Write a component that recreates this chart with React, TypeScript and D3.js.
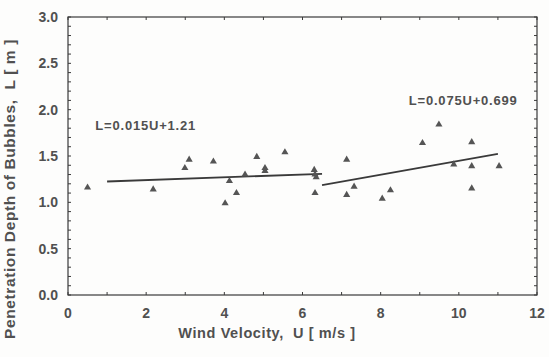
import * as d3 from "d3";

// measured points (U [m/s], L [m])
const windU = [
  0.5, 2.18, 2.99, 3.1, 3.72, 4.02, 4.13, 4.31, 4.53, 4.83, 5.04, 5.04, 5.55,
  6.3, 6.32, 6.35, 6.32, 7.13, 7.13, 7.32, 8.04, 8.25, 9.07, 9.49, 9.87, 10.33,
  10.33, 10.33, 11.03,
];
const depthL = [
  1.16, 1.14, 1.37, 1.46, 1.44, 0.99, 1.23, 1.1, 1.3, 1.49, 1.34, 1.37, 1.54,
  1.35, 1.3, 1.27, 1.1, 1.46, 1.08, 1.17, 1.04, 1.13, 1.64, 1.84, 1.41, 1.65,
  1.39, 1.15, 1.39,
];

// regression lines: slope, intercept, U range, label
const fitSlope = [0.015, 0.075];
const fitIntercept = [1.21, 0.699];
const fitFrom = [1.0, 6.5];
const fitTo = [6.5, 11.0];
const fitLabels = ["L=0.015U+1.21", "L=0.075U+0.699"];
const labelU = [0.7, 8.72];
const labelL = [1.83, 2.1];

const xTicks = [0, 2, 4, 6, 8, 10, 12];
const yTicks = [0, 0.5, 1.0, 1.5, 2.0, 2.5, 3.0];

const width = 549;
const height = 357;
const margin = { top: 17, right: 12, bottom: 62, left: 68 };
const font = "'Liberation Sans', Arial, sans-serif";
const ink = "#3a3a3a";
const textInk = "#505050";

export default function App() {
  const x = d3
    .scaleLinear()
    .domain([0, 12])
    .range([margin.left, width - margin.right]);
  const y = d3
    .scaleLinear()
    .domain([0, 3])
    .range([height - margin.bottom, margin.top]);

  const minorX = d3.range(0, 12.001, 1);
  const minorY = d3.range(0, 3.001, 0.1);
  const tri = d3.symbol(d3.symbolTriangle, 22)()!;

  return (
    <svg
      width={width}
      height={height}
      style={{ position: "absolute", left: 0, top: 0, background: "#fdfdfc" }}
      fontFamily={font}
    >
      <rect
        x={x(0)}
        y={y(3)}
        width={x(12) - x(0)}
        height={y(0) - y(3)}
        fill="none"
        stroke={ink}
        strokeWidth={1.2}
      />
      {minorX.map((t) => (
        <g key={"mx" + t}>
          <line x1={x(t)} x2={x(t)} y1={y(0)} y2={y(0) - 3} stroke={ink} />
          <line x1={x(t)} x2={x(t)} y1={y(3)} y2={y(3) + 3} stroke={ink} />
        </g>
      ))}
      {minorY.map((t) => (
        <g key={"my" + t}>
          <line x1={x(0)} x2={x(0) + 3} y1={y(t)} y2={y(t)} stroke={ink} />
          <line x1={x(12)} x2={x(12) - 3} y1={y(t)} y2={y(t)} stroke={ink} />
        </g>
      ))}
      {xTicks.map((t) => (
        <text
          key={"xt" + t}
          x={x(t)}
          y={y(0) + 23}
          textAnchor="middle"
          fontSize={14}
          fontWeight="bold"
          fill={textInk}
        >
          {t}
        </text>
      ))}
      {yTicks.map((t) => (
        <text
          key={"yt" + t}
          x={x(0) - 10}
          y={y(t) + 5}
          textAnchor="end"
          fontSize={14}
          fontWeight="bold"
          fill={textInk}
        >
          {t.toFixed(1)}
        </text>
      ))}
      <text
        x={267}
        y={height - 19}
        textAnchor="middle"
        fontSize={14.5}
        fontWeight="bold"
        letterSpacing={0.6}
        fill={textInk}
        style={{ whiteSpace: "pre" }}
      >
        {"Wind Velocity,  U [ m/s ]"}
      </text>
      <text
        transform={`translate(15,${189}) rotate(-90)`}
        textAnchor="middle"
        fontSize={15.5}
        fontWeight="bold"
        letterSpacing={0.6}
        fill={textInk}
        style={{ whiteSpace: "pre" }}
      >
        {"Penetration Depth of Bubbles,  L [ m ]"}
      </text>
      {fitSlope.map((s, i) => (
        <line
          key={"fit" + i}
          x1={x(fitFrom[i])}
          y1={y(s * fitFrom[i] + fitIntercept[i])}
          x2={x(fitTo[i])}
          y2={y(s * fitTo[i] + fitIntercept[i])}
          stroke={ink}
          strokeWidth={1.8}
        />
      ))}
      {fitLabels.map((l, i) => (
        <text
          key={"fl" + i}
          x={x(labelU[i])}
          y={y(labelL[i]) + 4.5}
          fontSize={13}
          fontWeight="bold"
          letterSpacing={0.8}
          fill={textInk}
        >
          {l}
        </text>
      ))}
      {windU.map((u, i) => (
        <path
          key={"p" + i}
          d={tri}
          transform={`translate(${x(u)},${y(depthL[i])})`}
          fill="#555"
        />
      ))}
    </svg>
  );
}
